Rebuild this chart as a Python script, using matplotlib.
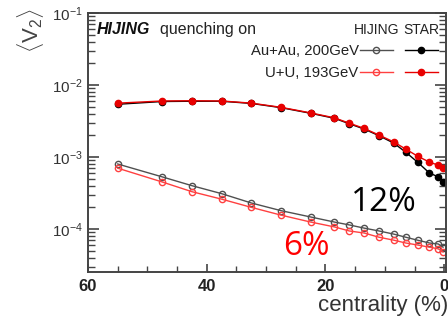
import matplotlib
matplotlib.use("Agg")
import matplotlib.pyplot as plt
from matplotlib.ticker import LogLocator, FixedLocator, NullFormatter

plt.rcParams['font.family'] = ['Liberation Sans', 'DejaVu Sans']
plt.rcParams['mathtext.fontset'] = 'custom'
plt.rcParams['mathtext.rm'] = 'Liberation Sans'
plt.rcParams['mathtext.it'] = 'Liberation Sans:italic'

centrality = [55, 47.5, 42.5, 37.5, 32.5, 27.5, 22.5, 18.5, 16, 13.5, 11, 8.5, 6.5, 4.5, 2.5, 1.0, 0.2]

star_auau = [5.4e-3, 5.9e-3, 5.95e-3, 5.95e-3, 5.55e-3, 4.85e-3, 4.05e-3, 3.45e-3, 2.9e-3,
             2.45e-3, 1.98e-3, 1.56e-3, 1.17e-3, 8.5e-4, 6.0e-4, 5.3e-4, 4.5e-4]
star_uu = [5.6e-3, 6.0e-3, 6.05e-3, 6.0e-3, 5.6e-3, 4.9e-3, 4.1e-3, 3.5e-3, 2.95e-3,
           2.5e-3, 2.02e-3, 1.62e-3, 1.29e-3, 1.03e-3, 8.5e-4, 7.7e-4, 7.1e-4]
hij_auau = [8.0e-4, 5.3e-4, 4.0e-4, 3.1e-4, 2.3e-4, 1.8e-4, 1.47e-4, 1.25e-4, 1.14e-4,
            1.03e-4, 9.4e-5, 8.5e-5, 7.7e-5, 7.0e-5, 6.4e-5, 6.2e-5, 5.6e-5]
hij_uu = [7.0e-4, 4.5e-4, 3.3e-4, 2.6e-4, 2.0e-4, 1.56e-4, 1.25e-4, 1.07e-4, 9.4e-5,
          8.8e-5, 7.7e-5, 7.0e-5, 6.4e-5, 6.0e-5, 5.6e-5, 5.3e-5, 4.8e-5]

x_ticks = [60, 40, 20, 0]
x_minor = [55, 50, 45, 35, 30, 25, 15, 10, 5]

GRAY = '#505050'
RED_L = '#ff4040'
RED = '#e80000'
BLACK = '#000000'
AX = '#444444'

fig = plt.figure(figsize=(4.48, 3.23), dpi=100)
ax = fig.add_axes([88/448, (323-272)/323, (446-88)/448, (272-13)/323])

ms = 4.5
h1, = ax.plot(centrality, hij_auau, '-o', color=GRAY, mfc='none', mec=GRAY, ms=ms, lw=1.0, mew=1.0)
h2, = ax.plot(centrality, hij_uu, '-o', color=RED_L, mfc='none', mec=RED_L, ms=ms, lw=1.0, mew=1.0)
h3, = ax.plot(centrality, star_auau, '-o', color=BLACK, mfc=BLACK, mec=BLACK, ms=ms, lw=1.0)
h4, = ax.plot(centrality, star_uu, '-o', color=RED, mfc=RED, mec=RED, ms=ms, lw=1.0)

ax.set_yscale('log')
ax.set_xlim(60, -0.3)
ax.set_ylim(2.53e-5, 1e-1)

ax.xaxis.set_major_locator(FixedLocator(x_ticks))
ax.xaxis.set_minor_locator(FixedLocator(x_minor))
ax.yaxis.set_major_locator(LogLocator(base=10, numticks=10))
ax.yaxis.set_minor_locator(LogLocator(base=10, subs=range(2, 10), numticks=20))
ax.yaxis.set_minor_formatter(NullFormatter())

ax.tick_params(axis='both', which='both', direction='in', color=AX)
ax.tick_params(axis='y', which='both', right=True)
ax.tick_params(axis='y', which='major', length=8, width=1.2, labelsize=11, labelcolor='#333333', pad=4)
ax.tick_params(axis='y', which='minor', length=5, width=1.0)
ax.tick_params(axis='x', which='major', length=6, width=1.2, labelsize=12, labelcolor='#222222', pad=5)
ax.tick_params(axis='x', which='minor', length=4, width=1.0)
for lab in ax.get_xticklabels():
    lab.set_fontweight('bold')
for s in ax.spines.values():
    s.set_color(AX)
    s.set_linewidth(1.4)

ax.set_xlabel('centrality (%)', fontsize=16, color='#333333', ha='right', x=1.005, labelpad=1)
fig.text(0.068, 0.975, r'$\langle\mathrm{V}_2\rangle$', rotation=90, fontsize=16,
         color='#444444', ha='center', va='top')

ax.text(0.025, 0.935, 'HIJING', transform=ax.transAxes, fontsize=11.5,
        fontweight='bold', style='italic', va='center', ha='left', color='#111111')
ax.text(0.2, 0.935, 'quenching on', transform=ax.transAxes, fontsize=11.5,
        va='center', ha='left', color='#222222')

# legend header
ax.text(0.743, 0.935, 'HIJING', transform=ax.transAxes, fontsize=10,
        va='center', ha='left', color='#222222')
ax.text(0.88, 0.935, 'STAR', transform=ax.transAxes, fontsize=10,
        va='center', ha='left', color='#222222')

leg = ax.legend([h1, h2, h3, h4], ['Au+Au, 200GeV', 'U+U, 193GeV', '', ''],
                ncol=2, markerfirst=False, frameon=False, fontsize=10.7,
                loc='upper right', bbox_to_anchor=(0.985, 0.89),
                handlelength=2.2, handletextpad=0.1, columnspacing=0.72,
                labelspacing=0.5, borderaxespad=0.0, borderpad=0.2)
for t in leg.get_texts():
    t.set_color('#222222')

ax.text(0.735, 0.27, '12%', transform=ax.transAxes, fontsize=24,
        color='black', ha='left', va='center', family=['Open Sans', 'DejaVu Sans'])
ax.text(0.545, 0.1, '6%', transform=ax.transAxes, fontsize=24,
        color='#ff0000', ha='left', va='center', family=['Open Sans', 'DejaVu Sans'])

fig.savefig('out.png', dpi=100)
